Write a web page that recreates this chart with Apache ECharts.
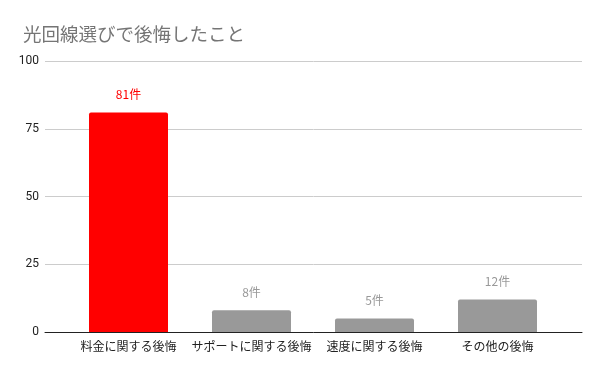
<!DOCTYPE html>
<html><head><meta charset="utf-8">
<script src="https://cdn.jsdelivr.net/npm/echarts@6/dist/echarts.min.js"></script>
<style>html,body{margin:0;padding:0;background:#fff}#c{width:600px;height:371px}</style>
</head><body><div id="c"></div>
<script>
const title = '光回線選びで後悔したこと';
const categories = ['料金に関する後悔','サポートに関する後悔','速度に関する後悔','その他の後悔'];
const values = [81, 8, 5, 12];
const barColors = ['#ff0000','#999999','#999999','#999999'];
const labelColors = ['#ff0000','#999999','#999999','#999999'];
const yTicks = [0, 25, 50, 75, 100];

const font = '"Noto Sans CJK JP", Roboto, sans-serif';
const chart = echarts.init(document.getElementById('c'));
chart.setOption({
  animation: false,
  title: { text: title, left: 18, top: 20, textStyle: { fontFamily: font, fontSize: 18.5, fontWeight: 'normal', color: '#757575' } },
  grid: [
    { left: 45, right: 18, top: 61, bottom: 39 },
    { left: 67, right: 41, top: 61, bottom: 39 }
  ],
  xAxis: [
    { type: 'category', gridIndex: 0, data: categories, axisLine: { show: true, lineStyle: { color: '#222', width: 1 } }, axisTick: { show: false }, axisLabel: { show: false } },
    { type: 'category', gridIndex: 1, data: categories, axisLine: { show: false }, axisTick: { show: false },
      axisLabel: { color: '#222', fontSize: 12, fontFamily: font, margin: 8, interval: 0 } }
  ],
  yAxis: [
    { type: 'value', gridIndex: 0, min: yTicks[0], max: yTicks[yTicks.length-1], interval: 25,
      axisLine: { show: false }, axisTick: { show: false },
      axisLabel: { color: '#222', fontSize: 12, fontFamily: 'Roboto, sans-serif', margin: 6 },
      splitLine: { lineStyle: { color: '#cccccc', width: 1 } } },
    { type: 'value', gridIndex: 1, min: yTicks[0], max: yTicks[yTicks.length-1], interval: 25, show: false }
  ],
  series: [{
    type: 'bar', xAxisIndex: 1, yAxisIndex: 1, barWidth: 79,
    data: values.map((v, i) => ({ value: v, itemStyle: { color: barColors[i], borderRadius: [2,2,0,0] },
      label: { color: labelColors[i] } })),
    label: { show: true, position: 'top', distance: 12, fontSize: 12, fontFamily: font, formatter: p => p.value + '件' }
  }]
});
</script></body></html>
